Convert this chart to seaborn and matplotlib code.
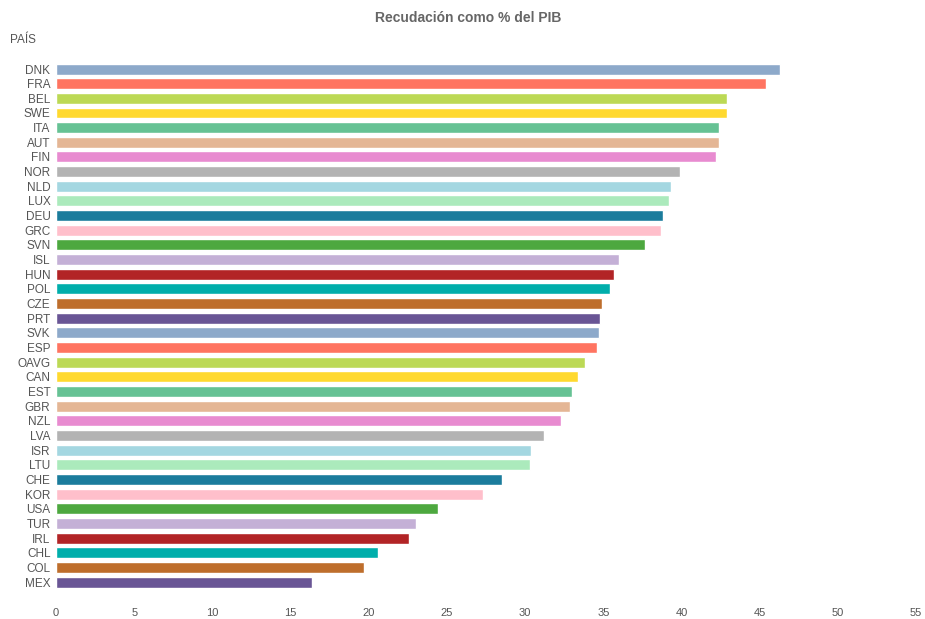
import matplotlib
matplotlib.use("Agg")
import matplotlib.pyplot as plt
import seaborn as sns
import pandas as pd

# datos
paises = ["DNK", "FRA", "BEL", "SWE", "ITA", "AUT", "FIN", "NOR", "NLD", "LUX",
          "DEU", "GRC", "SVN", "ISL", "HUN", "POL", "CZE", "PRT", "SVK", "ESP",
          "OAVG", "CAN", "EST", "GBR", "NZL", "LVA", "ISR", "LTU", "CHE", "KOR",
          "USA", "TUR", "IRL", "CHL", "COL", "MEX"]
recaudacion = [46.3, 45.4, 42.9, 42.9, 42.4, 42.4, 42.2, 39.9, 39.3, 39.2,
               38.8, 38.7, 37.7, 36.0, 35.7, 35.4, 34.9, 34.8, 34.7, 34.6,
               33.8, 33.4, 33.0, 32.9, 32.3, 31.2, 30.4, 30.3, 28.5, 27.3,
               24.4, 23.0, 22.6, 20.6, 19.7, 16.4]
paleta = ["#8DA9CA", "#FF7461", "#BCD955", "#FFD92F", "#66C294", "#E4B695",
          "#E88BD0", "#B3B3B3", "#A4D7E1", "#ABEABC", "#1B7C9C", "#FFBFCB",
          "#4DA83F", "#C4B0D6", "#B22426", "#00AEAB", "#BE6E2C", "#695595"]
xticks = list(range(0, 60, 5))

df = pd.DataFrame({"PAIS": paises, "valor": recaudacion})
colores = [paleta[i % len(paleta)] for i in range(len(paises))]

sns.set_theme(style="white")
plt.rcParams["font.family"] = ["Liberation Sans", "DejaVu Sans"]

fig = plt.figure(figsize=(9.25, 6.19), dpi=100)
ax = fig.add_axes([56 / 925, 1 - 600 / 619, 860 / 925, (600 - 61.7) / 619])

sns.barplot(data=df, x="valor", y="PAIS", hue="PAIS", palette=colores,
            legend=False, width=0.75, orient="h", ax=ax, saturation=1)

ax.set_xlim(0, 55)
ax.set_ylim(35 + (600 - 582) / 14.66, -0.5)
ax.set_xticks(xticks)
ax.set_xticklabels([str(t) for t in xticks])
ax.set_xlabel("")
ax.set_ylabel("")
for s in ax.spines.values():
    s.set_visible(False)
ax.tick_params(axis="x", length=0, pad=6, labelsize=8, labelcolor="#555555")
ax.tick_params(axis="y", length=0, pad=4, labelsize=8.5, labelcolor="#555555")

fig.text(468 / 925, 1 - 18 / 619, "Recudación como % del PIB", ha="center",
         va="center", fontsize=10, fontweight="bold", color="#666666")
fig.text(10 / 925, 1 - 40 / 619, "PAÍS", ha="left", va="center",
         fontsize=8.5, color="#555555")

fig.savefig("out.png", dpi=100)
